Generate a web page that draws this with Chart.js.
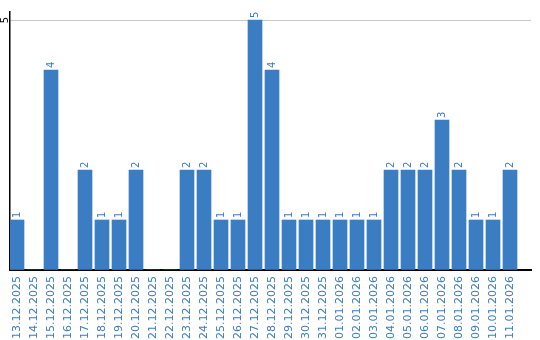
<!DOCTYPE html>
<html>
<head>
<meta charset="utf-8">
<script src="https://cdn.jsdelivr.net/npm/chart.js@4"></script>
<style>
  body { margin: 0; background: #fff; }
  #wrap { width: 540px; height: 340px; }
</style>
</head>
<body>
<div id="wrap"><canvas id="myChart"></canvas></div>
<script>
const dayLabels = ["13.12.2025", "14.12.2025", "15.12.2025", "16.12.2025", "17.12.2025", "18.12.2025",
  "19.12.2025", "20.12.2025", "21.12.2025", "22.12.2025", "23.12.2025", "24.12.2025", "25.12.2025",
  "26.12.2025", "27.12.2025", "28.12.2025", "29.12.2025", "30.12.2025", "31.12.2025", "01.01.2026",
  "02.01.2026", "03.01.2026", "04.01.2026", "05.01.2026", "06.01.2026", "07.01.2026", "08.01.2026",
  "09.01.2026", "10.01.2026", "11.01.2026"];
const dayCounts = [1, 0, 4, 0, 2, 1, 1, 2, 0, 0, 2, 2, 1, 1, 5, 4, 1, 1, 1, 1, 1, 1, 2, 2, 2, 3, 2, 1, 1, 2];
const yTicks = [5];

const blue = '#3b7dc3';
const font = "'DejaVu Sans'";

// bars sit on integer positions of a linear x axis so the axis can run past the last bar
const points = dayCounts.map((v, i) => ({ x: i, y: v }));

// value above each bar + the rotated y tick, both drawn sideways
const sideLabels = {
  id: 'sideLabels',
  afterDatasetsDraw(chart) {
    const ctx = chart.ctx;
    const meta = chart.getDatasetMeta(0);
    ctx.save();
    ctx.fillStyle = blue;
    ctx.font = '10px ' + font;
    ctx.textAlign = 'left';
    ctx.textBaseline = 'middle';
    meta.data.forEach((bar, i) => {
      if (!dayCounts[i]) return;
      ctx.save();
      ctx.translate(bar.x, bar.y - 2);
      ctx.rotate(-Math.PI / 2);
      ctx.fillText(String(dayCounts[i]), 0, 0);
      ctx.restore();
    });
    const y = chart.scales.y;
    ctx.fillStyle = '#000';
    ctx.textAlign = 'center';
    yTicks.forEach(t => {
      ctx.save();
      ctx.translate(5, y.getPixelForValue(t));
      ctx.rotate(-Math.PI / 2);
      ctx.fillText(String(t), 0, 0);
      ctx.restore();
    });
    ctx.restore();
  }
};

const ctx = document.getElementById('myChart').getContext('2d');
const chart = new Chart(ctx, {
  type: 'bar',
  data: {
    datasets: [{
      data: points,
      backgroundColor: blue,
      barThickness: 14
    }]
  },
  options: {
    responsive: true,
    maintainAspectRatio: false,
    animation: false,
    layout: { padding: { top: 12, right: 9, left: 0, bottom: 0 } },
    plugins: { legend: { display: false }, tooltip: { enabled: false } },
    scales: {
      x: {
        type: 'linear',
        offset: false,
        min: -7 / 17,
        max: -7 / 17 + 521 / 17,
        grid: { display: false, drawTicks: false },
        border: { color: '#000', width: 2 },
        afterBuildTicks(scale) {
          scale.ticks = dayLabels.map((d, i) => ({ value: i }));
        },
        afterFit(scale) { scale.height = 70; },
        ticks: {
          color: blue,
          font: { family: font, size: 11 },
          minRotation: 90,
          maxRotation: 90,
          autoSkip: false,
          padding: 6,
          callback: v => dayLabels[v] || ''
        }
      },
      y: {
        min: 0,
        max: 5.16,
        afterFit(scale) { scale.width = 10; },
        afterBuildTicks(scale) {
          scale.ticks = [{ value: 0 }].concat(yTicks.map(t => ({ value: t })));
        },
        border: { color: '#000', width: 1.5 },
        grid: {
          drawTicks: false,
          color: ctx => ctx.tick && yTicks.includes(ctx.tick.value) ? '#c8c8c8' : 'rgba(0,0,0,0)'
        },
        ticks: { display: false }
      }
    }
  },
  plugins: [sideLabels]
});
</script>
</body>
</html>
